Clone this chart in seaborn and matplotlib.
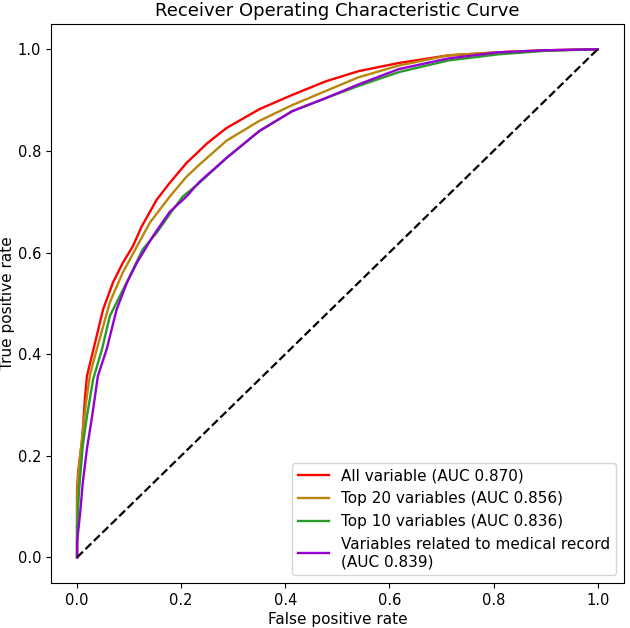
import pandas as pd
import seaborn as sns
import matplotlib
matplotlib.use("Agg")
import matplotlib.pyplot as plt

# ROC points
fpr_all = [0, 0, 0.002, 0.01, 0.015, 0.019, 0.034, 0.05, 0.069, 0.088, 0.107, 0.124, 0.153,
           0.178, 0.21, 0.25, 0.287, 0.35, 0.413, 0.478, 0.541, 0.618, 0.713, 0.809, 0.9, 1.0]
tpr_all = [0, 0.13, 0.167, 0.233, 0.312, 0.357, 0.42, 0.488, 0.541, 0.58, 0.612, 0.651, 0.704,
           0.737, 0.776, 0.815, 0.845, 0.882, 0.91, 0.937, 0.957, 0.973, 0.988, 0.994, 0.998, 1.0]

fpr_top20 = [0, 0, 0.003, 0.01, 0.018, 0.025, 0.038, 0.063, 0.088, 0.115, 0.14, 0.178, 0.21,
             0.235, 0.287, 0.35, 0.413, 0.478, 0.541, 0.618, 0.713, 0.809, 0.9, 1.0]
tpr_top20 = [0, 0.12, 0.17, 0.24, 0.31, 0.36, 0.41, 0.502, 0.561, 0.612, 0.659, 0.71, 0.749,
             0.773, 0.82, 0.859, 0.89, 0.918, 0.945, 0.968, 0.988, 0.994, 0.998, 1.0]

fpr_top10 = [0, 0, 0.004, 0.011, 0.019, 0.031, 0.048, 0.063, 0.082, 0.101, 0.126, 0.153, 0.184,
             0.203, 0.235, 0.287, 0.35, 0.413, 0.478, 0.541, 0.618, 0.713, 0.809, 0.9, 1.0]
tpr_top10 = [0, 0.06, 0.135, 0.22, 0.278, 0.351, 0.41, 0.475, 0.514, 0.553, 0.606, 0.639, 0.684,
             0.71, 0.737, 0.786, 0.839, 0.878, 0.904, 0.928, 0.955, 0.978, 0.99, 0.997, 1.0]

fpr_med = [0, 0, 0.006, 0.011, 0.019, 0.029, 0.04, 0.057, 0.076, 0.096, 0.115, 0.145, 0.178,
           0.21, 0.235, 0.287, 0.35, 0.413, 0.478, 0.541, 0.618, 0.713, 0.809, 0.9, 1.0]
tpr_med = [0, 0.03, 0.088, 0.147, 0.214, 0.278, 0.357, 0.41, 0.488, 0.541, 0.58, 0.631, 0.68,
           0.71, 0.739, 0.786, 0.839, 0.878, 0.904, 0.931, 0.961, 0.982, 0.994, 0.998, 1.0]

labels = ["All variable (AUC 0.870)",
          "Top 20 variables (AUC 0.856)",
          "Top 10 variables (AUC 0.836)",
          "Variables related to medical record\n(AUC 0.839)"]
colors = ["red", "#b8860b", "#2a9a2a", "#9400d3"]

# Build long table
frames = []
for lab, fx, ty in zip(labels, [fpr_all, fpr_top20, fpr_top10, fpr_med],
                       [tpr_all, tpr_top20, tpr_top10, tpr_med]):
    frames.append(pd.DataFrame({"fpr": fx, "tpr": ty, "model": lab}))
df = pd.concat(frames, ignore_index=True)

fig = plt.figure(figsize=(6.3, 6.28), dpi=100)
ax = fig.add_axes([0.081, 0.072, 0.909, 0.890])

sns.lineplot(data=df, x="fpr", y="tpr", hue="model", hue_order=labels,
             palette=dict(zip(labels, colors)), estimator=None, sort=False,
             linewidth=1.7, ax=ax)

# chance line
ax.plot([0, 1], [0, 1], "k--", linewidth=1.6)

ax.set_title("Receiver Operating Characteristic Curve", fontsize=13)
ax.set_xlabel("False positive rate", fontsize=11, labelpad=3)
ax.set_ylabel("True positive rate", fontsize=11, labelpad=2)
ax.tick_params(labelsize=10.5)
ax.legend(loc="lower right", fontsize=11)

fig.savefig("out.png", dpi=100)
